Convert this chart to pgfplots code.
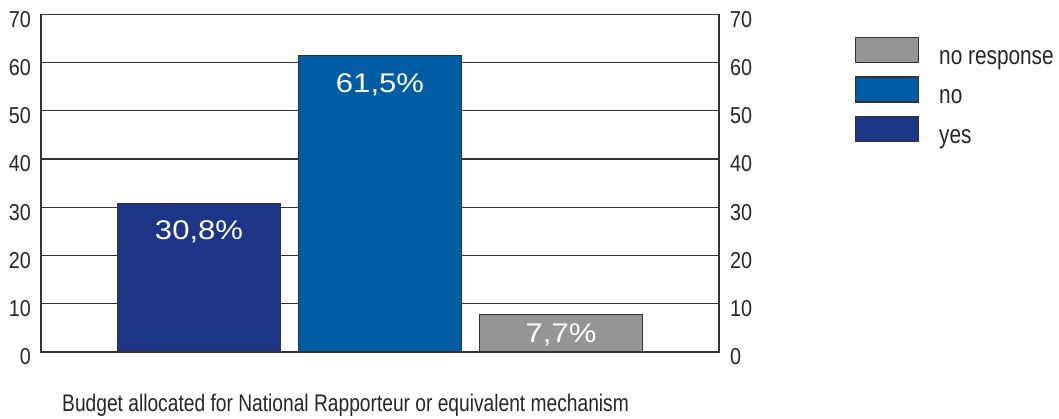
\documentclass[border=0pt]{standalone}
\usepackage{pgfplots}
\pgfplotsset{compat=1.18}
\usepackage{fontspec}
\setmainfont{Liberation Sans}
\newfontfamily\condfont{Liberation Sans}[FakeStretch=0.8]
\newfontfamily\tickfont{Liberation Sans}[FakeStretch=0.86]
\newfontfamily\widefont{Liberation Sans}[FakeStretch=1.15]
\definecolor{yesblue}{RGB}{29,53,135}
\definecolor{noblue}{RGB}{0,93,164}
\definecolor{nrgray}{RGB}{148,149,151}
\definecolor{linegray}{RGB}{50,50,50}

\begin{document}
\begin{tikzpicture}[x=1pt,y=1pt]
\useasboundingbox (-41,-67) rectangle (1018,352);
\pgfplotsset{
  barplot/.style={
    width=678pt, height=337.7pt, scale only axis,
    at={(0,0)}, anchor=south west,
    xmin=-0.873, xmax=2.873,
    ymin=0, ymax=70,
    ytick={0,10,...,70},
    xtick=\empty,
    major tick length=0pt,
    /pgf/number format/assume math mode=true,
  }
}
\begin{axis}[
  barplot,
  axis line style={linegray, line width=1.3pt},
  ymajorgrids,
  grid style={linegray, line width=1.3pt},
  yticklabel style={font=\tickfont\fontsize{23}{23}\selectfont, text=black!85,
    inner sep=0pt, anchor=east, xshift=-10pt, yshift=-5pt},
  ybar, bar width=0.9,
  bar shift=0pt,
  every axis plot/.append style={draw=linegray, line width=1.2pt},
  nodes near coords,
  point meta=explicit symbolic,
  every node near coord/.append style={font=\widefont\fontsize{27}{27}\selectfont,
    text=white, anchor=base, inner sep=0pt},
  legend style={at={(1.2006,0.9328)}, anchor=north west, draw=none, fill=none,
    inner sep=0pt, outer sep=0pt, row sep=10.5pt, column sep=20pt,
    nodes={inner sep=0pt, font=\condfont\fontsize{26}{26}\selectfont, text=black!85}},
  legend cell align=left,
  legend image code/.code={\draw[#1, line width=1.2pt] (0pt,-4.5pt) rectangle (63pt,20.5pt);},
]
\addplot[fill=nrgray, every node near coord/.append style={yshift=-28pt}]
  coordinates {(2,7.7) [7,7\%]};
\addplot[fill=noblue, every node near coord/.append style={yshift=-37pt}]
  coordinates {(1,61.5) [61,5\%]};
\addplot[fill=yesblue, every node near coord/.append style={yshift=-36pt}]
  coordinates {(0,30.8) [30,8\%]};
\legend{no response, no, yes}
\end{axis}
\begin{axis}[
  barplot,
  axis line style={draw=none},
  yticklabel pos=right,
  yticklabel style={font=\tickfont\fontsize{23}{23}\selectfont, text=black!85,
    inner sep=0pt, anchor=west, xshift=11pt, yshift=-5pt},
]
\addplot[draw=none] coordinates {(0,0)};
\end{axis}
\node[anchor=base west, inner sep=0pt, font=\condfont\fontsize{24}{24}\selectfont, text=black!85]
  at (21,-59.5) {Budget allocated for National Rapporteur or equivalent mechanism};
\end{tikzpicture}
\end{document}
